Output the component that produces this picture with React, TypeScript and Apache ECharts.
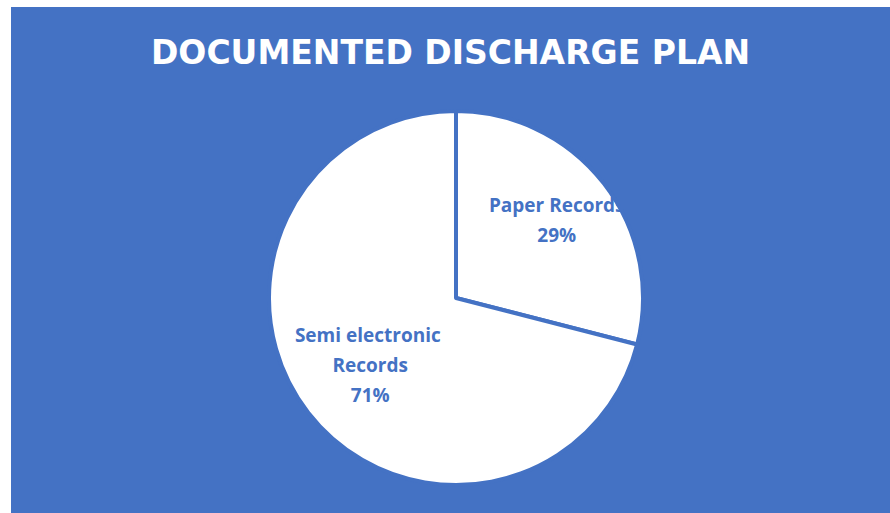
import React, { useEffect, useRef } from "react";
import * as echarts from "echarts";

const title = "DOCUMENTED DISCHARGE PLAN";
const categories = ["Paper Records", "Semi electronic Records"];
const values = [29, 71];

const BLUE = "#4472C4";

export default function App() {
  const ref = useRef<HTMLDivElement>(null);
  useEffect(() => {
    if (!ref.current) return;
    const chart = echarts.init(ref.current, null, { renderer: "svg" });
    const data = categories.map((c, i) => ({ name: c, value: values[i] }));
    const labelBase = {
      show: true,
      position: "inside",
      color: BLUE,
      fontFamily: "Open Sans",
      fontWeight: "bold",
      fontSize: 19,
      lineHeight: 30,
      width: 175,
      overflow: "break",
      align: "center",
      formatter: (p: any) => `${p.name}\n${Math.round(p.percent)}%`,
    };
    const center = [445, 291];
    chart.setOption({
      animation: false,
      backgroundColor: BLUE,
      title: {
        text: title,
        left: "center",
        top: 24,
        textStyle: {
          color: "#ffffff",
          fontFamily: "DejaVu Sans",
          fontWeight: "bold",
          fontSize: 33,
        },
      },
      series: [
        {
          type: "pie",
          center,
          radius: [0, 187],
          startAngle: 90,
          clockwise: true,
          data,
          label: { show: false },
          labelLine: { show: false },
          itemStyle: { color: "#ffffff", borderColor: BLUE, borderWidth: 4 },
          silent: true,
          z: 1,
        },
        {
          type: "pie",
          center,
          radius: [62, 187],
          startAngle: 90,
          clockwise: true,
          data: data.map((d, i) => ({
            ...d,
            label: { show: i === 0 },
          })),
          label: labelBase,
          labelLine: { show: false },
          itemStyle: { color: "transparent", borderWidth: 0 },
          silent: true,
          z: 3,
        },
        {
          type: "pie",
          center,
          radius: [24, 187],
          startAngle: 90,
          clockwise: true,
          data: data.map((d, i) => ({
            ...d,
            label: { show: i === 1 },
          })),
          label: labelBase,
          labelLine: { show: false },
          itemStyle: { color: "transparent", borderWidth: 0 },
          silent: true,
          z: 3,
        },
      ],
    });
    return () => chart.dispose();
  }, []);
  return (
    <div
      ref={ref}
      style={{ position: "fixed", left: 11, top: 7, width: 879, height: 506 }}
    />
  );
}
